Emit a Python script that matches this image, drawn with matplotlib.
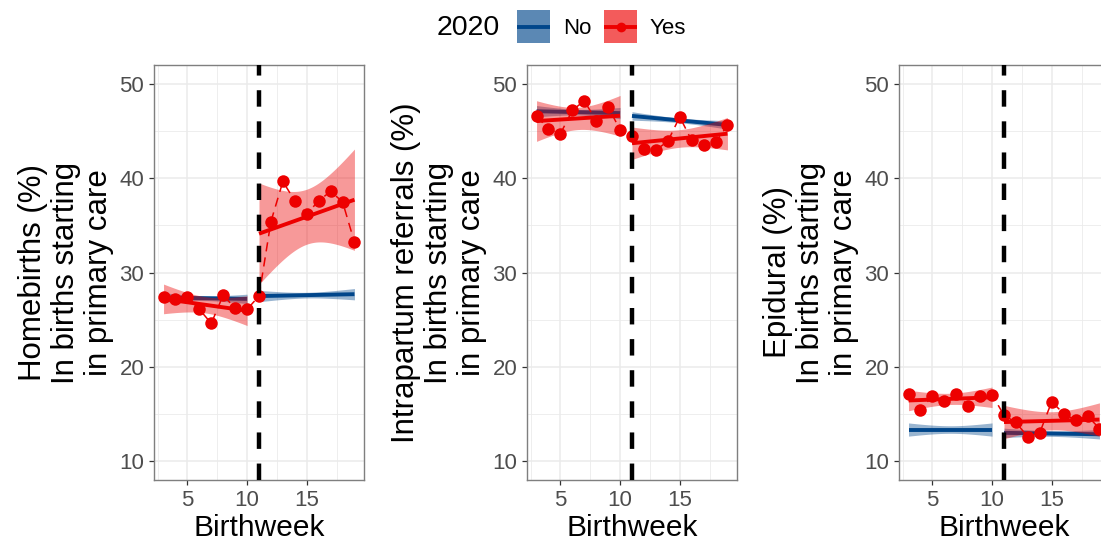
import numpy as np
import matplotlib
matplotlib.use("Agg")
import matplotlib.pyplot as plt
from matplotlib.patches import Rectangle
from matplotlib.ticker import MultipleLocator

plt.rcParams["font.family"] = ["Liberation Sans", "DejaVu Sans"]

# ---------------- data ----------------
weeks = np.arange(3, 20)
cutoff_week = 11

homebirths_yes = [27.4, 27.2, 27.4, 26.1, 24.6, 27.6, 26.2, 26.1,
                  27.5, 35.4, 39.65, 37.6, 36.2, 37.6, 38.6, 37.5, 33.2]
referrals_yes = [46.6, 45.2, 44.7, 47.2, 48.2, 46.1, 47.6, 45.1,
                 44.5, 43.1, 43.0, 43.9, 46.5, 44.0, 43.5, 43.8, 45.6]
epidural_yes = [17.16, 15.45, 16.9, 16.35, 17.16, 15.85, 16.88, 17.05,
                14.86, 14.1, 12.57, 13.03, 16.3, 15.04, 14.33, 14.8, 13.45]

# 'No' group fitted trend per period: value at first and last week
homebirths_no_pre = [27.35, 27.2]
homebirths_no_post = [27.5, 27.7]
referrals_no_pre = [47.1, 46.9]
referrals_no_post = [46.6, 45.65]
epidural_no_pre = [13.35, 13.35]
epidural_no_post = [13.0, 12.85]
# 'No' group CI half-widths per period: [at period ends, at period centre]
homebirths_no_ci_pre = [0.5, 0.25]
homebirths_no_ci_post = [0.6, 0.3]
referrals_no_ci_pre = [0.6, 0.3]
referrals_no_ci_post = [0.45, 0.25]
epidural_no_ci_pre = [0.7, 0.4]
epidural_no_ci_post = [0.5, 0.3]

y_titles = ["Homebirths (%)\nIn births starting\nin primary care",
            "Intrapartum referrals (%)\nIn births starting\nin primary care",
            "Epidural (%)\nIn births starting\nin primary care"]
x_title = "Birthweek"
legend_title = "2020"
legend_labels = ["No", "Yes"]

BLUE = "#00468B"
RED = "#ED0000"
T975 = {6: 2.446912, 7: 2.364624}

panels = [
    (homebirths_yes, homebirths_no_pre, homebirths_no_post, homebirths_no_ci_pre, homebirths_no_ci_post),
    (referrals_yes, referrals_no_pre, referrals_no_post, referrals_no_ci_pre, referrals_no_ci_post),
    (epidural_yes, epidural_no_pre, epidural_no_post, epidural_no_ci_pre, epidural_no_ci_post),
]

W, H = 1101, 545
fig = plt.figure(figsize=(W / 100, H / 100), dpi=100)

lefts = [154, 527, 899]
pw, top, bottom = 210, 65, 480


def lm_fit(x, y, xs):
    x = np.asarray(x, float); y = np.asarray(y, float)
    n = len(x)
    b, a = np.polyfit(x, y, 1)
    res = y - (a + b * x)
    s = np.sqrt(np.sum(res ** 2) / (n - 2))
    sxx = np.sum((x - x.mean()) ** 2)
    se = s * np.sqrt(1 / n + (xs - x.mean()) ** 2 / sxx)
    fit = a + b * xs
    t = T975[n - 2]
    return fit, fit - t * se, fit + t * se


def no_band(ends, ci, xs):
    x0, x1 = xs[0], xs[-1]
    xm, h = (x0 + x1) / 2, (x1 - x0) / 2
    fit = ends[0] + (ends[1] - ends[0]) * (xs - x0) / (x1 - x0)
    half = np.sqrt(ci[1] ** 2 + (ci[0] ** 2 - ci[1] ** 2) * ((xs - xm) / h) ** 2)
    return fit, fit - half, fit + half


for i, (yes, no_pre, no_post, ci_pre, ci_post) in enumerate(panels):
    ax = fig.add_axes([lefts[i] / W, 1 - bottom / H, pw / W, (bottom - top) / H])
    ax.set_xlim(2.2, 19.8)
    ax.set_ylim(8, 52)
    ax.xaxis.set_major_locator(MultipleLocator(5))
    ax.xaxis.set_minor_locator(MultipleLocator(2.5))
    ax.yaxis.set_major_locator(MultipleLocator(10))
    ax.yaxis.set_minor_locator(MultipleLocator(5))
    ax.grid(which="major", color="#EBEBEB", lw=1.1, zorder=0)
    ax.grid(which="minor", color="#EBEBEB", lw=0.6, zorder=0)
    ax.set_axisbelow(True)
    for sp in ax.spines.values():
        sp.set_color("#7F7F7F")
        sp.set_linewidth(1.0)
    ax.tick_params(which="major", length=3.5, width=0.9, color="#333333",
                   labelsize=16, labelcolor="#4D4D4D", pad=3.5)
    ax.tick_params(which="minor", length=0)

    wk = np.asarray(weeks)
    yv = np.asarray(yes, float)
    pre = wk < cutoff_week
    post = ~pre
    for mask, ends, ci in ((pre, no_pre, ci_pre), (post, no_post, ci_post)):
        xs = np.linspace(wk[mask][0], wk[mask][-1], 80)
        f, lo, hi = no_band(ends, ci, xs)
        ax.fill_between(xs, lo, hi, color=BLUE, alpha=0.4, lw=0, zorder=2)
        ax.plot(xs, f, color=BLUE, lw=2.8, zorder=3, solid_capstyle="butt")
    for mask in (pre, post):
        xs = np.linspace(wk[mask][0], wk[mask][-1], 80)
        f, lo, hi = lm_fit(wk[mask], yv[mask], xs)
        ax.fill_between(xs, lo, hi, color=RED, alpha=0.4, lw=0, zorder=4)
        ax.plot(xs, f, color=RED, lw=2.8, zorder=5, solid_capstyle="butt")
    ax.plot(wk, yv, color=RED, lw=1.1, ls=(0, (6, 4)), zorder=6)
    ax.plot(wk, yv, "o", color=RED, ms=9, mec="none", zorder=7)
    ax.axvline(cutoff_week, color="black", lw=3.2, ls=(0, (3.7, 3.3)), zorder=8)

    ax.set_xlabel(x_title, fontsize=21.5, labelpad=2)
    ax.set_ylabel(y_titles[i], fontsize=22.5, labelpad=4, linespacing=1.12)

# ---------------- legend ----------------
lax = fig.add_axes([0, 0, 1, 1])
lax.set_xlim(0, W)
lax.set_ylim(H, 0)
lax.axis("off")
lax.text(437, 28, legend_title, fontsize=20.5, va="center", ha="left")
for x0, col, lab, marker in ((517, BLUE, legend_labels[0], False), (604, RED, legend_labels[1], True)):
    for _ in range(2):
        lax.add_patch(Rectangle((x0, 10), 33, 33, facecolor=col, alpha=0.4, lw=0))
    lax.plot([x0, x0 + 33], [26.5, 26.5], color=col, lw=2.8, solid_capstyle="butt")
    if marker:
        lax.plot([x0 + 16.5], [26.5], "o", color=col, ms=7, mec="none")
    lax.text(x0 + 46, 28, lab, fontsize=16, va="center", ha="left")

fig.savefig("out.png", dpi=100)
